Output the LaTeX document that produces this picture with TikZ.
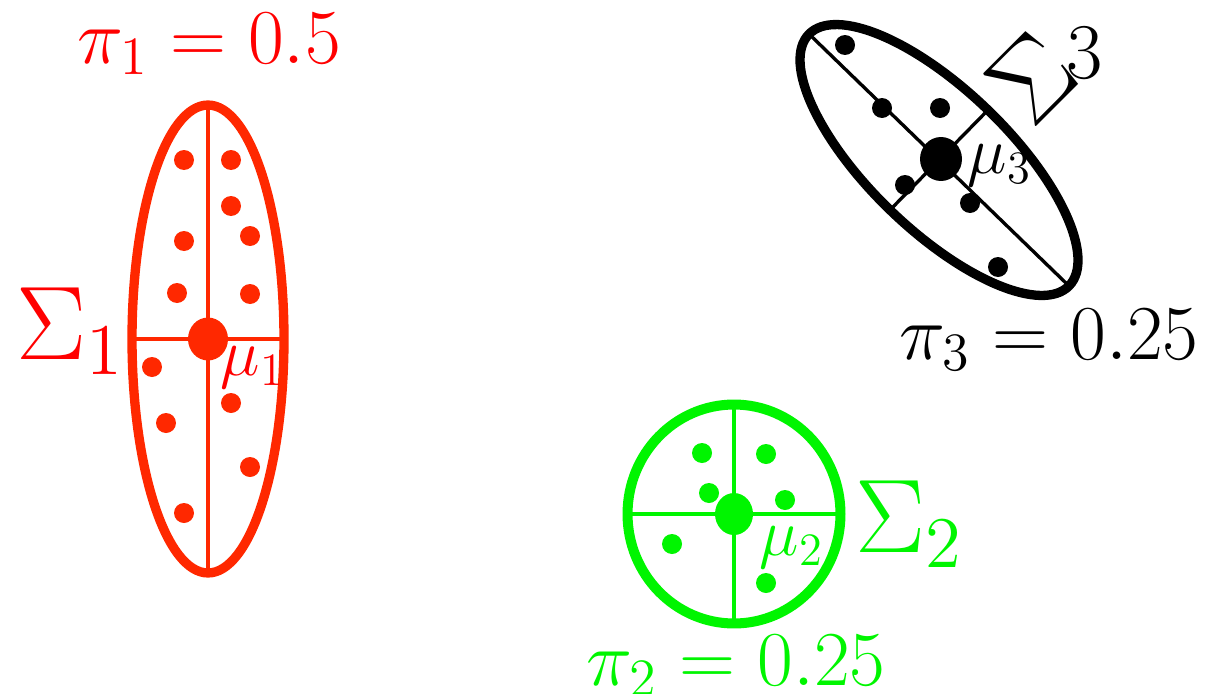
\documentclass[tikz,border=0pt]{standalone}
\definecolor{ellred}{RGB}{255,40,0}
\definecolor{txtred}{RGB}{255,0,0}
\definecolor{grn}{RGB}{0,245,0}
\begin{document}
\begin{tikzpicture}[x=0.02cm,y=-0.02cm,
  shell/.style={line width=5.3pt},
  axisline/.style={line width=1.9pt},
  pt/.style={radius=0.2cm},
  lbl/.style={inner sep=0pt},
  pifont/.style={font=\LARGE,scale=2.56},
  sigfont/.style={font=\LARGE,scale=3.45},
  mufont/.style={font=\LARGE,scale=2.2}]
\useasboundingbox (0,0) rectangle (1206,693);
% ---------- red cluster ----------
\coordinate (c1) at (208,339);
\coordinate (c1l) at (132,339);
\coordinate (c1r) at (284,339);
\coordinate (c1t) at (208,106);
\coordinate (c1b) at (208,574);
\draw[ellred,shell] (c1) ellipse [x radius=1.52cm, y radius=4.68cm];
\draw[ellred,axisline] (c1l) -- (c1r);
\draw[ellred,axisline] (c1t) -- (c1b);
\fill[ellred] (c1) ellipse [x radius=0.4cm, y radius=0.43cm];
\foreach \p in {(184,160),(231,160),(231,206),(250,236),(184,241),(177,293),(250,294),(152,367),(231,403),(166,423),(250,467),(184,513)}
  \fill[ellred] \p circle[pt];
\node[txtred,lbl,pifont,anchor=base] (p1) at (209,63) {$\pi_1 = 0.5$};
\node[txtred,lbl,sigfont,anchor=base west] (s1) at (15,359) {$\Sigma_1$};
\node[txtred,lbl,mufont,anchor=base west] (m1) at (220,375) {$\mu_1$};
% ---------- green cluster ----------
\coordinate (c2) at (734,514);
\coordinate (c2l) at (627,514);
\coordinate (c2r) at (841,514);
\coordinate (c2t) at (734,404);
\coordinate (c2b) at (734,624);
\draw[grn,line width=5.7pt] (c2) ellipse [x radius=2.13cm, y radius=2.19cm];
\draw[grn,axisline] (c2l) -- (c2r);
\draw[grn,axisline] (c2t) -- (c2b);
\fill[grn] (c2) ellipse [x radius=0.38cm, y radius=0.42cm];
\foreach \p in {(702,453),(766,454),(709,493),(785,500),(672,544),(766,583)}
  \fill[grn] \p circle[pt];
\node[grn,lbl,pifont,anchor=base] (p2) at (736,685) {$\pi_2 = 0.25$};
\node[grn,lbl,sigfont,anchor=base west] (s2) at (854,552) {$\Sigma_2$};
\node[grn,lbl,mufont,anchor=base west] (m2) at (759,555) {$\mu_2$};
% ---------- black cluster ----------
\coordinate (c3) at (939,160);
\coordinate (c3a) at (809,34);
\coordinate (c3b) at (1069,286);
\coordinate (c3c) at (988,110);
\coordinate (c3d) at (890,210);
\draw[black,shell,rotate around={-44:(c3)}] (c3) ellipse [x radius=3.62cm, y radius=1.4cm];
\draw[black,axisline] (c3a) -- (c3b);
\draw[black,axisline] (c3c) -- (c3d);
\fill[black] (941,159) ellipse [x radius=0.42cm, y radius=0.44cm];
\foreach \p in {(845,45),(882,108),(940,108),(905,185),(970,203),(998,267)}
  \fill[black] \p circle[pt];
\node[black,lbl,pifont,anchor=base] (p3) at (1049,359) {$\pi_3 = 0.25$};
\node[black,lbl,font=\LARGE,scale=3.6,rotate=45] (s3) at (1032,78) {$\Sigma$};
\node[black,lbl,font=\LARGE,scale=2.6,anchor=base west] (s3n) at (1066,78) {$3$};
\node[black,lbl,mufont,anchor=base west] (m3) at (967,173) {$\mu_3$};
\end{tikzpicture}
\end{document}
